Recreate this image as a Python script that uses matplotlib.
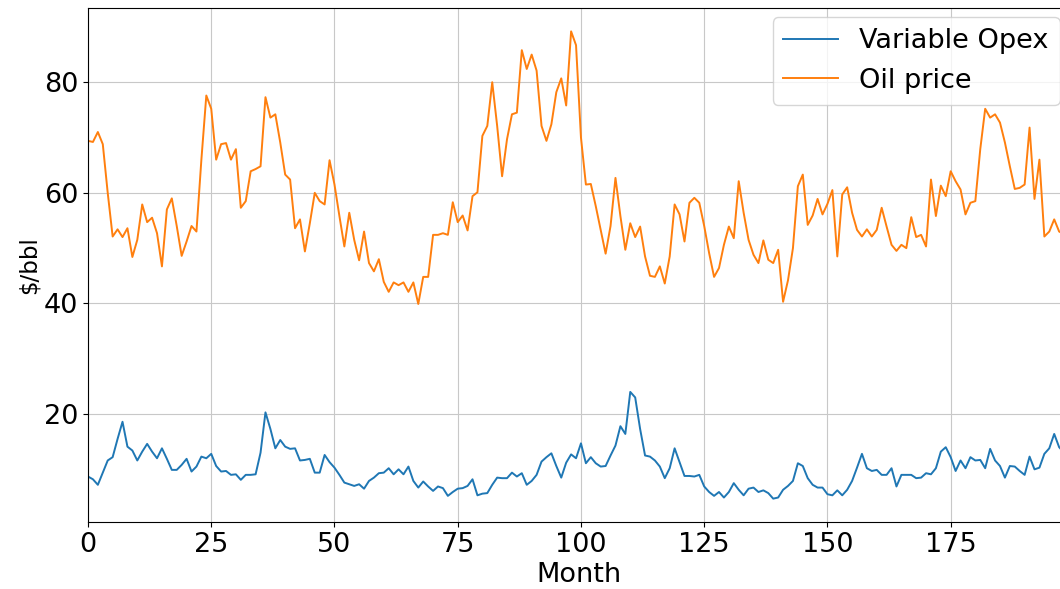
import matplotlib
matplotlib.use("Agg")
import matplotlib.pyplot as plt
import numpy as np

# monthly values
oil_price = [69.4, 69.2, 71.0, 68.8, 60.0, 52.1, 53.4, 52.0, 53.6, 48.4,
             51.5, 57.9, 54.7, 55.5, 52.7, 46.7, 57.0, 59.0, 54.0, 48.6,
             51.2, 54.0, 53.0, 66.0, 77.6, 75.2, 66.0, 68.8, 69.0, 66.0,
             67.9, 57.3, 58.5, 63.9, 64.3, 64.8, 77.3, 73.6, 74.2, 69.1,
             63.3, 62.4, 53.6, 55.2, 49.4, 54.5, 60.0, 58.5, 57.9, 65.9,
             61.5, 55.8, 50.3, 56.4, 51.5, 47.8, 53.0, 47.3, 45.8, 48.0,
             43.9, 42.1, 43.8, 43.3, 43.8, 42.1, 43.8, 39.9, 44.8, 44.8,
             52.4, 52.4, 52.7, 52.4, 58.3, 54.7, 55.9, 53.2, 59.4, 60.1,
             70.3, 72.1, 80.0, 72.1, 63.0, 69.7, 74.2, 74.5, 85.8, 82.4,
             85.0, 82.1, 72.1, 69.4, 72.4, 78.2, 80.7, 75.8, 89.2, 86.7,
             70.0, 61.5, 61.6, 57.6, 53.3, 49.0, 54.0, 62.7, 55.8, 49.7,
             54.5, 52.0, 53.9, 48.5, 45.0, 44.8, 46.7, 43.6, 48.5, 57.9,
             56.1, 51.2, 58.2, 59.1, 58.2, 54.0, 49.1, 44.8, 46.4, 50.6,
             53.9, 51.8, 62.1, 56.4, 51.5, 48.8, 47.3, 51.4, 47.9, 47.3,
             49.7, 40.3, 44.2, 50.0, 61.2, 63.3, 54.2, 55.9, 58.9, 56.1,
             58.0, 60.5, 48.5, 59.7, 61.0, 56.4, 53.3, 52.1, 53.4, 52.1,
             53.3, 57.3, 53.9, 50.6, 49.5, 50.6, 50.0, 55.6, 52.0, 52.4,
             50.3, 62.4, 55.8, 61.3, 59.4, 63.9, 62.1, 60.6, 56.1, 58.2,
             58.5, 67.9, 75.2, 73.6, 74.2, 72.7, 69.1, 64.8, 60.7, 60.9,
             61.5, 71.8, 58.9, 66.0, 52.1, 53.0, 55.2, 53.0, 52.5]

variable_opex = [8.7, 8.2, 7.2, 9.4, 11.6, 12.2, 15.5, 18.6, 14.1, 13.4,
                 11.6, 13.2, 14.6, 13.2, 12.0, 13.8, 11.9, 9.9, 9.9, 10.8,
                 11.9, 9.6, 10.5, 12.3, 12.0, 12.8, 10.6, 9.6, 9.7, 9.0,
                 9.1, 8.1, 9.0, 9.0, 9.1, 13.0, 20.3, 17.3, 13.8, 15.3,
                 14.1, 13.7, 13.8, 11.6, 11.7, 11.9, 9.4, 9.4, 12.6, 11.3,
                 10.3, 9.0, 7.6, 7.3, 7.0, 7.3, 6.5, 7.9, 8.5, 9.3,
                 9.4, 10.2, 9.1, 10.0, 9.1, 10.5, 7.9, 6.7, 7.8, 6.9,
                 6.1, 6.9, 6.6, 5.2, 5.9, 6.5, 6.6, 7.0, 8.2, 5.3,
                 5.6, 5.7, 7.2, 8.5, 8.4, 8.4, 9.4, 8.7, 9.3, 7.2,
                 7.9, 9.0, 11.4, 12.2, 12.9, 10.6, 8.5, 11.2, 12.7, 12.0,
                 14.7, 11.1, 12.2, 11.1, 10.5, 10.6, 12.5, 14.3, 17.8, 16.4,
                 24.0, 23.0, 17.3, 12.5, 12.3, 11.6, 10.5, 8.4, 10.2, 13.8,
                 11.3, 8.8, 8.8, 8.7, 9.0, 6.9, 5.9, 5.2, 5.9, 4.9,
                 5.9, 7.5, 6.3, 5.3, 6.5, 6.7, 5.9, 6.2, 5.7, 4.7,
                 4.9, 6.3, 7.0, 7.9, 11.1, 10.6, 8.4, 7.2, 6.7, 6.7,
                 5.5, 5.3, 6.2, 5.3, 6.3, 7.9, 10.3, 12.8, 10.2, 9.7,
                 9.9, 9.0, 9.0, 10.2, 6.9, 9.0, 9.0, 9.0, 8.4, 8.5,
                 9.3, 9.1, 10.2, 13.2, 14.0, 12.2, 9.7, 11.6, 10.2, 12.2,
                 11.6, 11.7, 10.2, 13.7, 11.6, 10.6, 8.5, 10.6, 10.5, 9.7,
                 9.0, 12.3, 10.0, 10.3, 12.8, 13.8, 16.4, 14.0, 13.0]

months = np.arange(len(oil_price))

plt.rcParams['font.size'] = 19.5
fig = plt.figure(figsize=(10.6, 5.89), dpi=100)
# axes runs a little past the right edge, as in the cropped original
ax = fig.add_axes([88/1060, 1 - 522/589, (1069 - 88)/1060, (522 - 8)/589])
ax.plot(months, variable_opex, label='Variable Opex', lw=1.4)
ax.plot(months, oil_price, label='Oil price', lw=1.4)
ax.set_xlim(0, 199)
ax.set_xlabel('Month', labelpad=3)
ax.set_ylabel('\\$/bbl', fontsize=16.5, labelpad=2)
ax.set_yticks([20, 40, 60, 80])
ax.grid(True, color='#c8c8c8')
ax.legend(loc='upper right', borderaxespad=0.35)
fig.savefig('out.png', dpi=100)
